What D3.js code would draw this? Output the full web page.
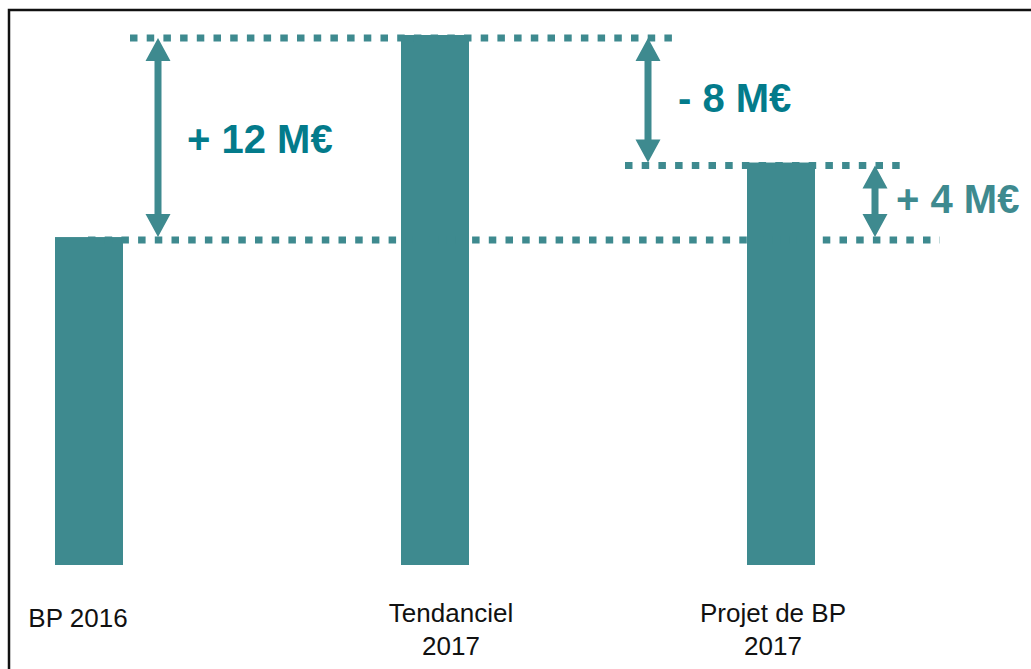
<!DOCTYPE html>
<html>
<head>
<meta charset="utf-8">
<script src="https://cdn.jsdelivr.net/npm/d3@7"></script>
<style>
  html, body { margin: 0; padding: 0; background: #fff; }
  svg { display: block; font-family: "Liberation Sans", Arial, sans-serif; }
</style>
</head>
<body>
<div id="chart"></div>
<script>
// chart data
const categories = ['BP 2016', 'Tendanciel 2017', 'Projet de BP 2017'];
const labelLines = [['BP 2016'], ['Tendanciel', '2017'], ['Projet de BP', '2017']];
const values = [19.8, 32, 24.3];
const deltas = ['+ 12 M€', '- 8 M€', '+ 4 M€'];

const W = 1031, H = 669;
const teal = '#3e8a8f';
const darkTeal = '#037b8b';

const svg = d3.select('#chart').append('svg')
  .attr('width', W)
  .attr('height', H);

// frame (top + left only, the rest is cropped)
svg.append('path')
  .attr('d', `M9,${H} V10 H${W}`)
  .attr('fill', 'none')
  .attr('stroke', '#111')
  .attr('stroke-width', 2.5);

const x = d3.scalePoint().domain(categories).range([89, 781]);
const y = d3.scaleLinear().domain([0, 32]).range([565, 35]);
const barW = 68;

svg.append('g')
  .selectAll('rect')
  .data(values)
  .join('rect')
  .attr('x', (d, i) => x(categories[i]) - barW / 2)
  .attr('y', d => y(d))
  .attr('width', barW)
  .attr('height', d => y(0) - y(d))
  .attr('fill', teal);

// dotted reference lines
const dotted = [
  { v: values[1], x1: 130, x2: 672 },
  { v: values[0], x1: 88, x2: 940 },
  { v: values[2], x1: 625, x2: 900 }
];
svg.append('g')
  .selectAll('line')
  .data(dotted)
  .join('line')
  .attr('x1', d => d.x1)
  .attr('x2', d => d.x2)
  .attr('y1', d => y(d.v) + 3)
  .attr('y2', d => y(d.v) + 3)
  .attr('stroke', teal)
  .attr('stroke-width', 7)
  .attr('stroke-dasharray', '7.5 9.2');

// double arrows between levels
const arrows = [
  { x: 158, from: values[1], to: values[0] },
  { x: 648, from: values[1], to: values[2] },
  { x: 875, from: values[2], to: values[0] }
];
function doubleArrow(g, ax, yTop, yBot) {
  const hw = 12.5, hl = 23, sw = 3.5;
  g.append('path')
    .attr('d', `M${ax},${yTop} L${ax + hw},${yTop + hl} L${ax + sw},${yTop + hl}
      L${ax + sw},${yBot - hl} L${ax + hw},${yBot - hl} L${ax},${yBot}
      L${ax - hw},${yBot - hl} L${ax - sw},${yBot - hl} L${ax - sw},${yTop + hl}
      L${ax - hw},${yTop + hl} Z`)
    .attr('fill', teal);
}
const ag = svg.append('g');
arrows.forEach(a => doubleArrow(ag, a.x, y(a.from) + 3, y(a.to)));

// delta labels
const deltaPos = [
  { x: 187, y: 153, c: darkTeal },
  { x: 678, y: 112, c: darkTeal },
  { x: 896, y: 213, c: teal }
];
svg.append('g')
  .selectAll('text')
  .data(deltas)
  .join('text')
  .attr('x', (d, i) => deltaPos[i].x)
  .attr('y', (d, i) => deltaPos[i].y)
  .attr('fill', (d, i) => deltaPos[i].c)
  .attr('font-size', 40)
  .attr('font-weight', 700)
  .text(d => d);

// category labels
const cat = svg.append('g')
  .selectAll('text')
  .data(labelLines)
  .join('text')
  .attr('text-anchor', 'middle')
  .attr('font-size', 26)
  .attr('fill', '#111')
  .attr('transform', (d, i) => `translate(${i === 0 ? 78 : x(categories[i]) + (i === 1 ? 16 : -8)},0)`);
cat.selectAll('tspan')
  .data(d => d)
  .join('tspan')
  .attr('x', 0)
  .attr('y', (d, j, nodes) => (nodes.length === 1 ? 627 : 622 + j * 33))
  .text(d => d);
</script>
</body>
</html>
